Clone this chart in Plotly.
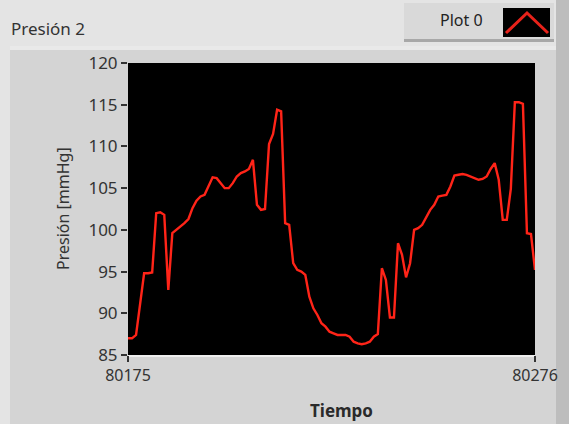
import plotly.graph_objects as go

# waveform chart "Presión 2" (LabVIEW style)
x_start = 80175
x_end = 80276
y_ticks = [85, 90, 95, 100, 105, 110, 115, 120]

presion = [
    87.0, 87.0, 87.4, 91.0, 94.8, 94.8, 94.9, 102.0, 102.1, 101.8,
    92.8, 99.6, 100.0, 100.3, 100.8, 101.3, 102.6, 103.5, 104.0, 104.2,
    105.2, 106.3, 106.2, 105.6, 105.0, 105.0, 105.6, 106.4, 106.8, 107.0,
    107.3, 108.4, 103.0, 102.4, 102.5, 110.3, 111.5, 114.4, 114.2, 100.8,
    100.6, 96.0, 95.2, 95.0, 94.6, 92.0, 90.6, 89.8, 88.8, 88.4,
    87.8, 87.6, 87.4, 87.4, 87.4, 87.2, 86.6, 86.4, 86.3, 86.4,
    86.6, 87.2, 87.5, 95.4, 94.0, 89.5, 89.5, 98.4, 97.0, 94.3,
    96.0, 100.0, 100.2, 100.6, 101.5, 102.4, 103.0, 104.0, 104.1, 104.2,
    105.2, 106.5, 106.6, 106.7, 106.6, 106.4, 106.2, 106.0, 106.1, 106.4,
    107.3, 108.0, 106.0, 101.2, 101.2, 104.9, 115.3, 115.3, 115.1, 99.6,
    99.5, 95.2,
]
tiempo = list(range(x_start, x_start + len(presion)))

W, H = 569, 424
L, R, T, B = 128, 535, 63, 355


def px(x):
    return (x - L) / (R - L)


def py(y):
    return (B - y) / (B - T)


def rect(x0, y0, x1, y1, fill, line=None):
    return dict(type='rect', xref='paper', yref='paper', x0=px(x0), x1=px(x1),
                y0=py(y1), y1=py(y0), fillcolor=fill, layer='below',
                line=dict(width=0) if line is None else line)


fig = go.Figure()
fig.add_trace(go.Scatter(x=tiempo, y=presion, mode='lines',
                         line=dict(color='#ff2418', width=2.4),
                         showlegend=False, hoverinfo='skip'))

shapes = [
    rect(10, 46, 556, 424, '#d4d4d4'),
    rect(10, 46, 556, 50, '#e9e9e9'),
    rect(556, 0, 569, 424, '#bdbdbd'),
    rect(L, T, R, B, '#000000'),
    rect(L, B, R, B + 2, '#eeeeee'),
    # legend box
    rect(404, 3, 554, 41, '#d9d9d9'),
    rect(404, 39, 554, 42, '#a8a8a8'),
    rect(503, 8, 550, 37, '#000000'),
    dict(type='path', xref='paper', yref='paper',
         path='M %f %f L %f %f L %f %f' % (px(506), py(33), px(527), py(13), px(548), py(33)),
         line=dict(color='#e8221a', width=3), layer='above'),
]

font = 'Noto Sans, Open Sans, sans-serif'
fig.update_layout(
    width=W, height=H,
    margin=dict(l=L, r=W - R, t=T, b=H - B),
    paper_bgcolor='#e4e4e4',
    plot_bgcolor='rgba(0,0,0,0)',
    shapes=shapes,
    font=dict(family=font, size=16, color='#333333'),
    annotations=[
        dict(text='Presión 2', xref='paper', yref='paper', x=px(9), y=py(28),
             xanchor='left', yanchor='middle', showarrow=False,
             font=dict(size=17, color='#333333')),
        dict(text='Plot 0', xref='paper', yref='paper', x=px(461), y=py(20),
             xanchor='center', yanchor='middle', showarrow=False,
             font=dict(size=16, color='#222222')),
        dict(text='<b>Tiempo</b>', xref='paper', yref='paper', x=px(341), y=py(410),
             xanchor='center', yanchor='middle', showarrow=False,
             font=dict(size=17, color='#2a2a2a')),
        dict(text='Presión [mmHg]', xref='paper', yref='paper', x=px(63), y=py(209),
             xanchor='center', yanchor='middle', showarrow=False, textangle=-90,
             font=dict(size=16, color='#333333')),
    ],
)
fig.update_xaxes(range=[x_start, x_end], tickvals=[x_start, x_end],
                 ticktext=[str(x_start), str(x_end)], showgrid=False, zeroline=False,
                 ticks='outside', ticklen=6, tickwidth=1.5, tickcolor='#333333',
                 showline=False, tickfont=dict(size=16, color='#333333'))
fig.update_yaxes(range=[85, 120], tickvals=y_ticks, showgrid=False, zeroline=False,
                 ticks='outside', ticklen=6, tickwidth=1.5, tickcolor='#333333',
                 showline=False, tickfont=dict(size=17, color='#333333'))

# drop the browser's default 8px body margin so the figure sits at (0, 0)
fig.write_html("out.html", config={'displayModeBar': False},
               post_script="document.body.style.margin='0';document.body.style.background='#e4e4e4';")
